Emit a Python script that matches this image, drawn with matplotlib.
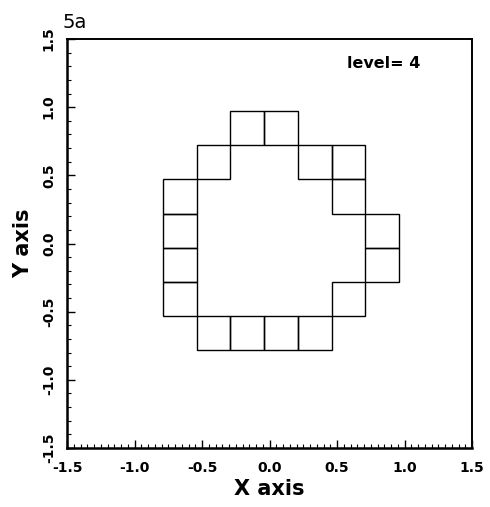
import matplotlib
matplotlib.use("Agg")
import matplotlib.pyplot as plt
from matplotlib.patches import Rectangle
from matplotlib.ticker import MultipleLocator

plt.rcParams["axes.unicode_minus"] = False

# lower-left corners of the boxes (data units), side length
cell_x = [-0.29, -0.04,
          -0.54, 0.21, 0.46,
          -0.79, 0.46,
          -0.79, 0.71,
          -0.79, 0.71,
          -0.79, 0.46,
          -0.54, -0.29, -0.04, 0.21]
cell_y = [0.72, 0.72,
          0.47, 0.47, 0.47,
          0.22, 0.22,
          -0.03, -0.03,
          -0.28, -0.28,
          -0.53, -0.53,
          -0.78, -0.78, -0.78, -0.78]
cell_size = 0.25
level = 4

fig = plt.figure(figsize=(4.9, 5.07), dpi=100)
ax = fig.add_axes([67 / 490, 59 / 507, 405 / 490, 409 / 507])

for x, y in zip(cell_x, cell_y):
    ax.add_patch(Rectangle((x, y), cell_size, cell_size, fill=False,
                           edgecolor="black", linewidth=1.0))

ax.set_xlim(-1.5, 1.5)
ax.set_ylim(-1.5, 1.5)

ax.xaxis.set_major_locator(MultipleLocator(0.5))
ax.xaxis.set_minor_locator(MultipleLocator(0.05))
ax.yaxis.set_major_locator(MultipleLocator(0.5))
ax.yaxis.set_minor_locator(MultipleLocator(0.1))
ax.tick_params(which="both", direction="in", top=False, right=False)
ax.tick_params(which="major", length=6, width=1.0)
ax.tick_params(which="minor", length=3, width=0.8)
ax.tick_params(axis="x", pad=9)
ax.tick_params(axis="y", pad=8)

for lab in ax.get_xticklabels():
    lab.set_fontweight("bold")
    lab.set_fontsize(10)
for lab in ax.get_yticklabels():
    lab.set_fontweight("bold")
    lab.set_fontsize(10)
    lab.set_rotation(90)
    lab.set_va("center")

for side in ["left", "bottom"]:
    ax.spines[side].set_linewidth(1.8)
for side in ["top", "right"]:
    ax.spines[side].set_linewidth(1.4)

ax.set_xlabel("X axis", fontsize=15, fontweight="bold", labelpad=3)
ax.set_ylabel("Y axis", fontsize=15, fontweight="bold", labelpad=6)

ax.text(0.576, 1.32, "level= %d" % level, fontsize=11.5, fontweight="bold",
        ha="left", va="center")
fig.text(63 / 490, 1 - 22 / 507, "5a", fontsize=14, ha="left", va="center")

fig.savefig("out.png", dpi=100)
